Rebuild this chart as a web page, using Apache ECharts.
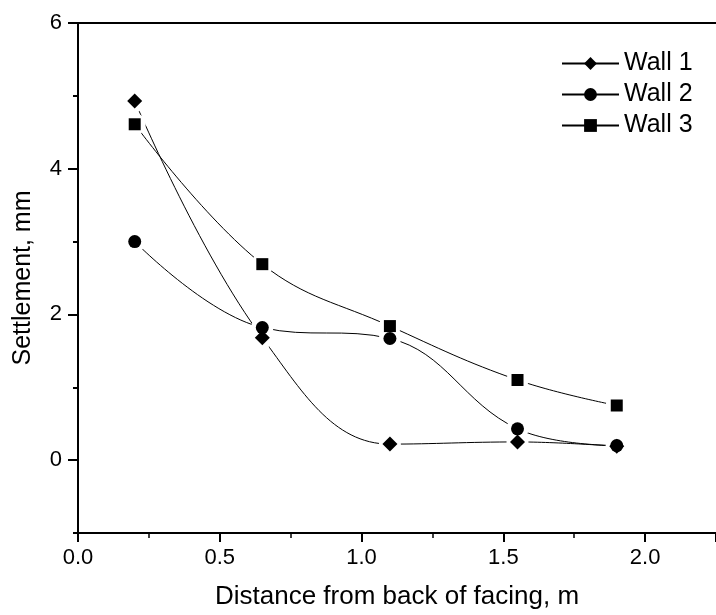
<!DOCTYPE html>
<html>
<head>
<meta charset="utf-8">
<script src="https://cdn.jsdelivr.net/npm/echarts@6/dist/echarts.min.js"></script>
<style>
html,body{margin:0;padding:0;background:#fff;}
#chart{width:716px;height:615px;}
</style>
</head>
<body>
<div id="chart"></div>
<script>
// ---- data ----
const distances = [0.2, 0.65, 1.1, 1.55, 1.9];
const wall1 = [4.93, 1.68, 0.22, 0.25, 0.19];
const wall2 = [3.0, 1.82, 1.67, 0.43, 0.2];
const wall3 = [4.61, 2.69, 1.84, 1.10, 0.75];
const seriesNames = ['Wall 1', 'Wall 2', 'Wall 3'];
const seriesSymbols = ['diamond', 'circle', 'rect'];
const seriesSymbolSizes = [15, 13, 12];
const yMajorTicks = [0, 2, 4, 6];
const xTitle = 'Distance from back of facing, m';
const yTitle = 'Settlement, mm';

const FONT = '"Liberation Sans", Arial, sans-serif';
const walls = [wall1, wall2, wall3];
const pairs = v => distances.map((x, i) => [x, v[i]]);

const lineSeries = walls.map((v, i) => ({
  name: seriesNames[i],
  type: 'line',
  data: pairs(v),
  smooth: 0.4,
  showSymbol: false,
  symbol: seriesSymbols[i],
  symbolSize: seriesSymbolSizes[i],
  lineStyle: { color: '#000', width: 1 },
  itemStyle: { color: '#000', opacity: 1 },
  z: 2,
  silent: true
}));
const haloSeries = walls.map((v, i) => ({
  name: 'halo' + i,
  type: 'scatter',
  data: pairs(v),
  symbol: 'circle',
  symbolSize: 22,
  itemStyle: { color: '#fff', opacity: 1 },
  z: 3,
  silent: true
}));
const markerSeries = walls.map((v, i) => ({
  name: 'marker' + i,
  type: 'scatter',
  data: pairs(v),
  symbol: seriesSymbols[i],
  symbolSize: seriesSymbolSizes[i],
  itemStyle: { color: '#000', opacity: 1 },
  z: 4,
  silent: true
}));

const axisLine = { show: true, onZero: false, lineStyle: { color: '#000', width: 2 } };

const option = {
  animation: false,
  backgroundColor: '#fff',
  grid: { left: 78, top: 23, right: -12, bottom: 76 },
  legend: {
    data: seriesNames,
    orient: 'vertical',
    left: 556,
    top: 46,
    itemWidth: 57,
    itemHeight: 16,
    itemGap: 6,
    textStyle: { fontFamily: FONT, fontSize: 25, color: '#000', lineHeight: 25 },
    selectedMode: false
  },
  xAxis: [
    {
      type: 'value', position: 'bottom', min: 0, max: 2.25, interval: 0.5,
      axisLine: axisLine,
      axisTick: { show: true, length: 9, lineStyle: { color: '#000', width: 2 } },
      minorTick: { show: true, splitNumber: 2, length: 5, lineStyle: { color: '#000', width: 1.5 } },
      splitLine: { show: false },
      axisLabel: {
        formatter: v => v.toFixed(1), showMaxLabel: false,
        fontFamily: FONT, fontSize: 22, color: '#000', margin: 14
      },
      name: xTitle, nameLocation: 'middle', nameGap: 51,
      nameTextStyle: { fontFamily: FONT, fontSize: 26, color: '#000' }
    },
    {
      type: 'value', position: 'top', min: 0, max: 2.25,
      axisLine: axisLine, axisTick: { show: false }, axisLabel: { show: false },
      splitLine: { show: false }
    }
  ],
  yAxis: [
    {
      type: 'value', position: 'left', min: -1, max: 6, interval: 1,
      axisLine: axisLine,
      axisTick: { show: true, length: 5, lineStyle: { color: '#000', width: 2 } },
      splitLine: { show: false },
      axisLabel: {
        formatter: v => (v % 2 === 0 ? String(v) : ''),
        fontFamily: FONT, fontSize: 22, color: '#000', margin: 16
      },
      name: yTitle, nameLocation: 'middle', nameGap: 42, nameRotate: 90,
      nameTextStyle: { fontFamily: FONT, fontSize: 25, color: '#000' }
    },
    {
      type: 'value', position: 'left', offset: 0, min: -1, max: 6, interval: 1,
      axisLine: { show: false, onZero: false },
      axisTick: { show: true, length: 10, customValues: yMajorTicks, lineStyle: { color: '#000', width: 2 } },
      axisLabel: { show: false },
      splitLine: { show: false }
    }
  ],
  series: [...lineSeries, ...haloSeries, ...markerSeries]
};

const chart = echarts.init(document.getElementById('chart'), null, { renderer: 'canvas' });
chart.setOption(option);
</script>
</body>
</html>
